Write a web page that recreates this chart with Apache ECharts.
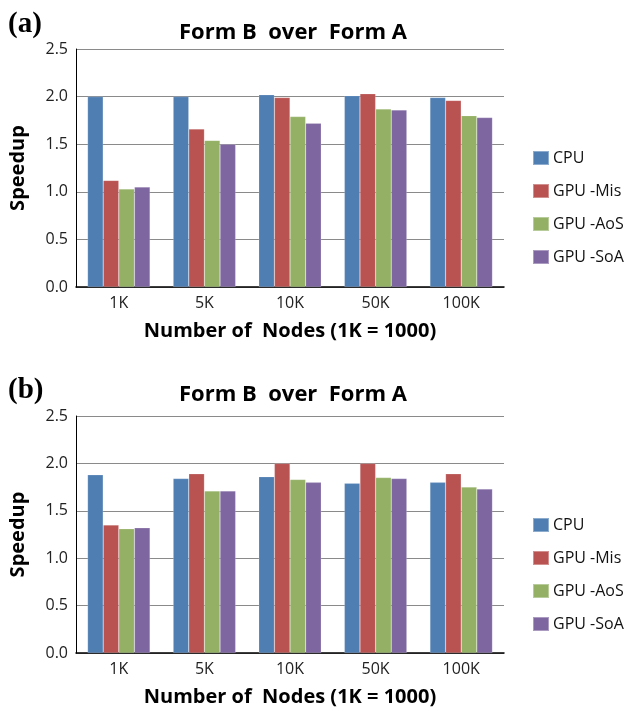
<!DOCTYPE html>
<html>
<head>
<meta charset="utf-8">
<style>
  html, body { margin: 0; padding: 0; background: #fff; }
  #chart { width: 628px; height: 708px; }
</style>
<script src="https://cdn.jsdelivr.net/npm/echarts@6/dist/echarts.min.js"></script>
</head>
<body>
<div id="chart"></div>
<script>
// Node counts along the x axis
const categories = ['1K', '5K', '10K', '50K', '100K'];
const seriesNames = ['CPU', 'GPU -Mis', 'GPU -AoS', 'GPU -SoA'];
const seriesColors = ['#4F7EB3', '#B95352', '#93B065', '#7E66A0'];
const yTicks = [0, 0.5, 1.0, 1.5, 2.0, 2.5];

// Panel (a): speedup of Form B over Form A
const cpuA = [2.00, 2.00, 2.02, 2.01, 1.99];
const misA = [1.12, 1.66, 1.99, 2.03, 1.96];
const aosA = [1.03, 1.54, 1.79, 1.87, 1.80];
const soaA = [1.05, 1.50, 1.72, 1.86, 1.78];

// Panel (b): speedup of Form B over Form A
const cpuB = [1.88, 1.84, 1.86, 1.79, 1.80];
const misB = [1.35, 1.89, 2.00, 2.00, 1.89];
const aosB = [1.31, 1.71, 1.83, 1.85, 1.75];
const soaB = [1.32, 1.71, 1.80, 1.84, 1.73];

const panelA = [cpuA, misA, aosA, soaA];
const panelB = [cpuB, misB, aosB, soaB];

const FONT = '"Open Sans", "Noto Sans", sans-serif';
const SERIF = '"Liberation Serif", "DejaVu Serif", serif';

const grids = [
  { left: 76, top: 49, width: 428, height: 238 },
  { left: 76, top: 416, width: 428, height: 237 }
];

function xAxisFor(i) {
  return {
    type: 'category',
    gridIndex: i,
    data: categories,
    axisLine: { lineStyle: { color: '#000', width: 1.5 } },
    axisTick: { show: false },
    axisLabel: { color: '#222', fontFamily: FONT, fontSize: 16, margin: 8 },
    name: 'Number of  Nodes (1K = 1000)',
    nameLocation: 'middle',
    nameGap: 34,
    nameTextStyle: { color: '#000', fontFamily: FONT, fontSize: 20, fontWeight: 'bold' }
  };
}

function yAxisFor(i) {
  return {
    type: 'value',
    gridIndex: i,
    min: yTicks[0],
    max: yTicks[yTicks.length - 1],
    interval: 0.5,
    axisLine: { show: true, lineStyle: { color: '#000', width: 1 } },
    axisTick: { show: false },
    axisLabel: {
      color: '#222', fontFamily: FONT, fontSize: 16, margin: 8,
      formatter: v => v.toFixed(1)
    },
    splitLine: { show: true, lineStyle: { color: '#8a8a8a', width: 1 } },
    name: 'Speedup',
    nameLocation: 'middle',
    nameGap: 48,
    nameTextStyle: { color: '#000', fontFamily: FONT, fontSize: 20, fontWeight: 'bold' }
  };
}

function barsFor(panel, i) {
  return panel.map((values, k) => ({
    name: seriesNames[k],
    type: 'bar',
    xAxisIndex: i,
    yAxisIndex: i,
    data: values,
    barGap: '0%',
    barCategoryGap: '27%',
    itemStyle: { color: seriesColors[k], borderColor: 'rgba(255,255,255,0.35)', borderWidth: 0.5 },
    emphasis: { disabled: true }
  }));
}

function legendFor(top) {
  return {
    orient: 'vertical',
    left: 532,
    top: top,
    padding: 0,
    itemWidth: 16,
    itemHeight: 14,
    itemGap: 17,
    icon: 'rect',
    data: seriesNames,
    selectedMode: false,
    textStyle: { color: '#111', fontFamily: FONT, fontSize: 16, lineHeight: 16, padding: [0, 0, 0, -1] }
  };
}

const chart = echarts.init(document.getElementById('chart'), null, { renderer: 'canvas' });
chart.setOption({
  animation: false,
  backgroundColor: '#fff',
  color: seriesColors,
  title: [
    { text: 'Form B  over  Form A', left: 288, top: 17, textAlign: 'center',
      textStyle: { fontFamily: FONT, fontSize: 22, fontWeight: 'bold', color: '#000' } },
    { text: 'Form B  over  Form A', left: 288, top: 379, textAlign: 'center',
      textStyle: { fontFamily: FONT, fontSize: 22, fontWeight: 'bold', color: '#000' } },
    { text: '(a)', left: 3, top: 5,
      textStyle: { fontFamily: SERIF, fontSize: 29, fontWeight: 'bold', color: '#000' } },
    { text: '(b)', left: 3, top: 371,
      textStyle: { fontFamily: SERIF, fontSize: 29, fontWeight: 'bold', color: '#000' } }
  ],
  legend: [legendFor(150), legendFor(517)],
  grid: grids,
  xAxis: [xAxisFor(0), xAxisFor(1)],
  yAxis: [yAxisFor(0), yAxisFor(1)],
  series: barsFor(panelA, 0).concat(barsFor(panelB, 1))
});
</script>
</body>
</html>
